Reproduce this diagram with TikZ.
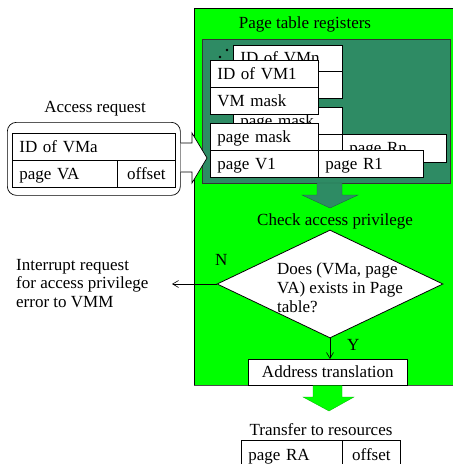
\documentclass[tikz,border=0pt]{standalone}
\usepackage{fontspec}
\setmainfont{Liberation Serif}
\usetikzlibrary{shapes.geometric,arrows.meta}
\definecolor{brightgreen}{RGB}{0,255,0}
\definecolor{dkgreen}{RGB}{46,139,100}
\begin{document}
\begin{tikzpicture}[x=1pt,y=-1pt,
  every node/.style={font=\fontsize{17}{19}\selectfont},
  box/.style={draw=black, fill=white, line width=0.7pt, inner xsep=7pt, inner ysep=0pt,
    minimum height=27pt, text height=12pt, text depth=1pt, anchor=north west, align=left},
  cbox/.style={box, align=center},
  lbl/.style={inner sep=0pt, anchor=base},
  lblw/.style={inner sep=0pt, anchor=base west, align=left},
  flow/.style={line width=0.6pt, -{Straight Barb[length=6pt,width=7pt]}}]
\useasboundingbox (0,0) rectangle (453,464);

% green panel
\fill[brightgreen] (194,8) rectangle (460,385);
\draw[line width=0.8pt] (194,385) -- (194,8) -- (460,8);
\draw[line width=0.8pt, gray!60!black] (194,385) -- (460,385);
\node[lbl] (ptr) at (305,28) {Page table registers};

% dark green register area
\node[draw=black!80, fill=dkgreen, line width=0.6pt, minimum width=248pt, minimum height=144pt,
  inner sep=0pt, anchor=north west] (reg) at (202,39) {};

% back group (VMn)
\fill (220,57) circle (1.3pt);
\fill (227,50) circle (1.3pt);
\node[box, text width=95pt, minimum height=26pt] (vmn) at (233,45) {ID of VMn};
\node[box, text width=95pt] (vmn2) at (233,71) {};
\node[box, text width=95pt] (pmn) at (233,107) {page mask};
\node[box, text width=95pt, minimum height=28pt] (pvn) at (233,134) {};
\node[box, text width=90pt, minimum height=28pt] (prn) at (342,134) {page Rn};

% front group (VM1)
\node[box, text width=94pt] (vm1) at (210,60) {ID of VM1};
\node[box, text width=94pt] (vmm) at (210,87) {VM mask};
\node[box, text width=94pt] (pm1) at (210,123) {page mask};
\node[box, text width=94pt] (pv1) at (210,150) {page V1};
\node[box, text width=91pt] (pr1) at (318,150) {page R1};

% access request
\node[lbl] (arl) at (95,112) {Access request};
\node[draw=black, line width=0.7pt, rounded corners=9pt, minimum width=173pt, minimum height=73pt,
  inner sep=0pt, anchor=north west] (ar) at (7,122) {};
\node[box, text width=149pt] (ida) at (12,133) {ID of VMa};
\node[box, text width=91pt] (pva) at (12,160) {page VA};
\node[cbox, inner xsep=0pt, text width=58pt] (offa) at (117,160) {offset};

% block arrow into registers
\draw[fill=white, line width=0.7pt, line join=miter]
  (ar.east |- 0,143) -- (192,143) -- (192,133) -- (207,158) -- (192,183) -- (192,172) -- (ar.east |- 0,172);

% dark arrow down
\draw[fill=dkgreen, draw=dkgreen!70!black, line width=0.4pt]
  (317,183) -- (342,183) -- (342,195) -- (358,195) -- (330,208) -- (302,195) -- (317,195) -- cycle;

\node[lblw] (chk) at (257,225) {Check access privilege};

% decision
\node[diamond, draw=black, fill=white, line width=0.8pt, minimum width=226pt, minimum height=108pt,
  inner sep=0pt] (dia) at (330,284) {};
\node[lblw] (diat) at (277,312) {Does (VMa, page\\[0pt]VA) exists in Page\\[0pt]table?};
\node[lblw] (nl) at (215,265) {N};
\node[lblw] (yl) at (347,350) {Y};

% interrupt
\node[lblw, font=\fontsize{17}{18.5}\selectfont] (intr) at (16,307) {Interrupt request\\for access privilege\\error to VMM};
\coordinate (nend) at (172,284);
\draw[flow] (dia.west) -- (nend);

% address translation
\node[cbox, minimum width=159pt, minimum height=26pt, inner xsep=0pt] (adr) at (248,359) {Address translation};
\draw[flow] (dia.south) -- (adr.north -| dia.south);

% green arrow down
\draw[fill=brightgreen, draw=green!70!black, line width=0.3pt]
  (313,385.5) -- (342,385.5) -- (342,397) -- (354,397) -- (329,411) -- (303,397) -- (313,397) -- cycle;

\node[lbl] (trl) at (321,435) {Transfer to resources};
\node[box, text width=87pt, minimum height=30pt] (pra) at (241,440) {page RA};
\node[cbox, inner xsep=0pt, text width=58pt, minimum height=30pt] (offr) at (342,440) {offset};
\end{tikzpicture}
\end{document}
